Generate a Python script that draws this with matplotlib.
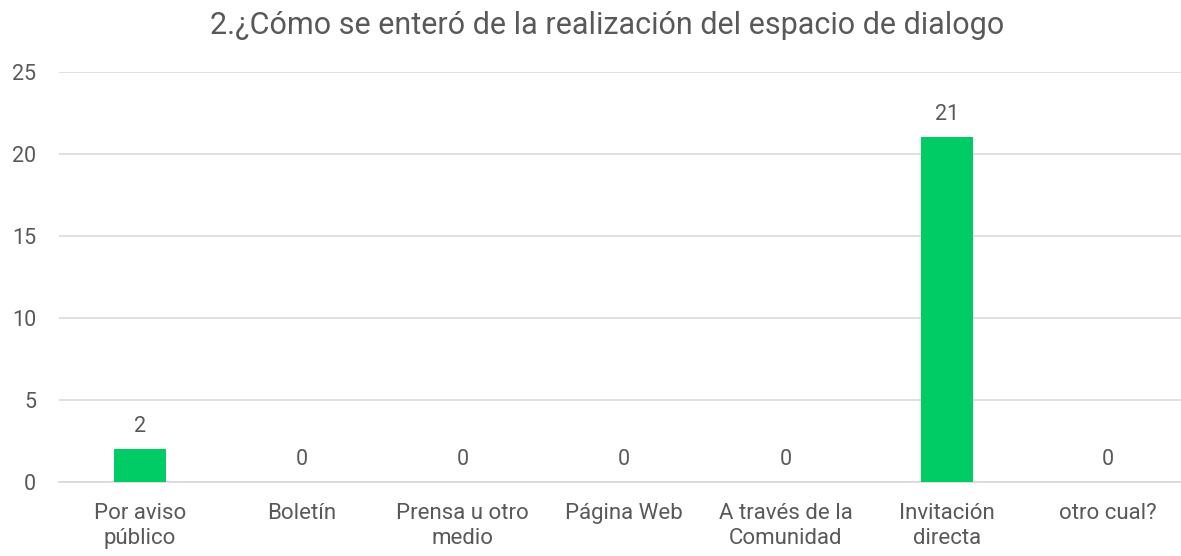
import matplotlib
matplotlib.use('Agg')
import matplotlib.pyplot as plt
import numpy as np

plt.rcParams['font.family'] = ['Roboto', 'DejaVu Sans']

categories = ['Por aviso\npúblico', 'Boletín', 'Prensa u otro\nmedio', 'Página Web',
              'A través de la\nComunidad', 'Invitación\ndirecta', 'otro cual?']
values = [2, 0, 0, 0, 0, 21, 0]
yticks = [0, 5, 10, 15, 20, 25]
title = '2.¿Cómo se enteró de la realización del espacio de dialogo'

green = '#00CC66'
text_col = '#595959'
grid_col = '#D9D9D9'

fig = plt.figure(figsize=(11.81, 5.56), dpi=100)
# plot area runs past the right edge, like the original
ax = fig.add_axes([0.0502, 0.133, 0.9565, 0.738])

x = np.arange(len(categories))
ax.bar(x, values, width=0.32, color=green, zorder=3)
for xi, v in zip(x, values):
    ax.text(xi, v + 0.75, str(v), ha='center', va='bottom', fontsize=15.5, color=text_col)

ax.set_xlim(-0.5, len(categories) - 0.5)
ax.set_ylim(0, 25)
ax.set_yticks(yticks)
ax.set_xticks(x)
ax.set_xticklabels(categories, fontsize=16, color=text_col, linespacing=1.25)
ax.tick_params(axis='y', labelsize=15.5, labelcolor=text_col, length=0, pad=16.5)
ax.tick_params(axis='x', length=0, pad=15)
ax.grid(axis='y', color=grid_col, linewidth=1.2, zorder=0)
for s in ['top', 'right', 'left']:
    ax.spines[s].set_visible(False)
ax.spines['bottom'].set_color(grid_col)
ax.spines['bottom'].set_linewidth(1.2)

fig.text(0.514, 0.955, title, ha='center', va='center', fontsize=22, color=text_col)

fig.savefig('out.png', dpi=100)
